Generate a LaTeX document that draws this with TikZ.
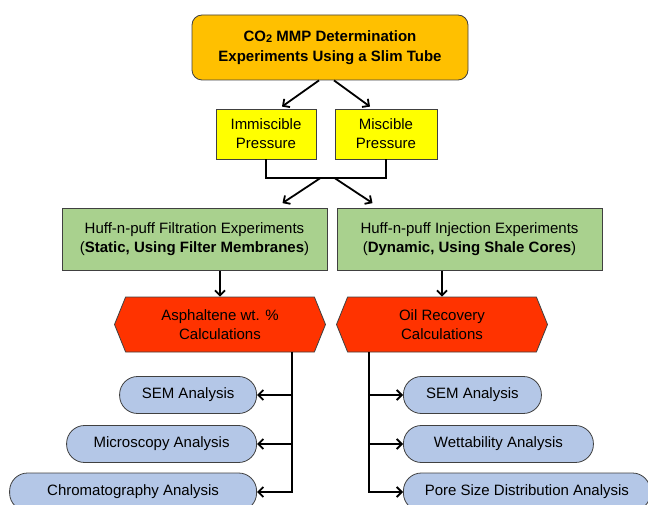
\documentclass[tikz,border=0pt]{standalone}
\usepackage{fontspec}
\setmainfont{Liberation Sans}
\usetikzlibrary{shapes.symbols,arrows.meta}
\definecolor{topfill}{HTML}{FFC000}
\definecolor{pressfill}{HTML}{FFFF00}
\definecolor{expfill}{HTML}{A9D18E}
\definecolor{calcfill}{HTML}{FF3300}
\definecolor{anafill}{HTML}{B4C7E7}
\definecolor{edge}{HTML}{404040}
\tikzset{
  box/.style={draw=edge,line width=0.8pt,align=center,inner sep=0pt,
    font=\fontsize{15}{19}\selectfont},
  pill/.style={box,fill=anafill,rounded corners=18pt,minimum height=37pt},
  hexbox/.style={box,signal,signal to=west and east,signal pointer angle=136,
    fill=calcfill,minimum width=211pt,minimum height=55pt},
  arr/.style={-{Straight Barb[length=5pt,width=10pt]},line width=1.8pt},
  link/.style={line width=1.8pt}
}
\begin{document}
\begin{tikzpicture}[x=1pt,y=-1pt]
    \useasboundingbox (0,0) rectangle (648,505);
    \node[box,fill=topfill,rounded corners=10pt,minimum width=276pt,minimum height=65pt,
      font=\fontsize{15}{20}\selectfont\bfseries] (slim) at (330,47.5)
      {CO\raisebox{-1pt}{\fontsize{11}{11}\selectfont 2} MMP Determination\\Experiments Using a Slim Tube};
    \node[box,fill=pressfill,minimum width=100pt,minimum height=50pt] (immis) at (266,134)
      {Immiscible\\Pressure};
    \node[box,fill=pressfill,minimum width=102pt,minimum height=50pt] (mis) at (386,134)
      {Miscible\\Pressure};
    \node[box,fill=expfill,minimum width=265pt,minimum height=62pt] (filt) at (194.5,239.5)
      {Huff-n-puff Filtration Experiments\\(\textbf{Static, Using Filter Membranes})};
    \node[box,fill=expfill,minimum width=265pt,minimum height=62pt] (inj) at (469.5,239.5)
      {Huff-n-puff Injection Experiments\\(\textbf{Dynamic, Using Shale Cores})};
    \node[hexbox] (asph) at (220,324.5) {Asphaltene wt. \%\\Calculations};
    \node[hexbox] (oil) at (442,324.5) {Oil Recovery\\Calculations};
    % analyses
    \node[pill,anchor=east,minimum width=137pt] (semL) at (257,395) {SEM Analysis};
    \node[pill,anchor=east,minimum width=190pt] (micro) at (257,444) {Microscopy Analysis};
    \node[pill,anchor=east,minimum width=247pt,minimum height=38pt] (chrom) at (257,492)
      {Chromatography Analysis};
    \node[pill,anchor=west,minimum width=138pt] (semR) at (403,395) {SEM Analysis};
    \node[pill,anchor=west,minimum width=190pt] (wett) at (403,444) {Wettability Analysis};
    \node[pill,anchor=west,minimum width=247pt,minimum height=38pt] (pore) at (403,492)
      {Pore Size Distribution Analysis};
    % connectors
    \draw[arr] ([xshift=-11pt]slim.south) -- ([xshift=16pt,yshift=2pt]immis.north);
    \draw[arr] ([xshift=4pt]slim.south) -- ([xshift=-16pt,yshift=2pt]mis.north);
    \draw[link] (immis.south) -- ++(0,19) coordinate (join) -| (mis.south);
    \coordinate (mid) at (327.5,178);
    \draw[arr] ([xshift=-7pt]mid) -- ([xshift=88pt,yshift=5pt]filt.north);
    \draw[arr] ([xshift=7pt]mid) -- ([xshift=-97pt,yshift=5pt]inj.north);
    \draw[arr] (filt.south -| asph.north) -- (asph.north);
    \draw[arr] (inj.south -| oil.north) -- (oil.north);
    \coordinate (trunkL) at ([xshift=72pt]asph.south);
    \coordinate (trunkR) at ([xshift=-73pt]oil.south);
    \draw[arr] (trunkL) |- (semL.east);
    \draw[arr] (trunkL) |- (micro.east);
    \draw[arr] (trunkL) |- (chrom.east);
    \draw[arr] (trunkR) |- (semR.west);
    \draw[arr] (trunkR) |- (wett.west);
    \draw[arr] (trunkR) |- (pore.west);
\end{tikzpicture}
\end{document}
